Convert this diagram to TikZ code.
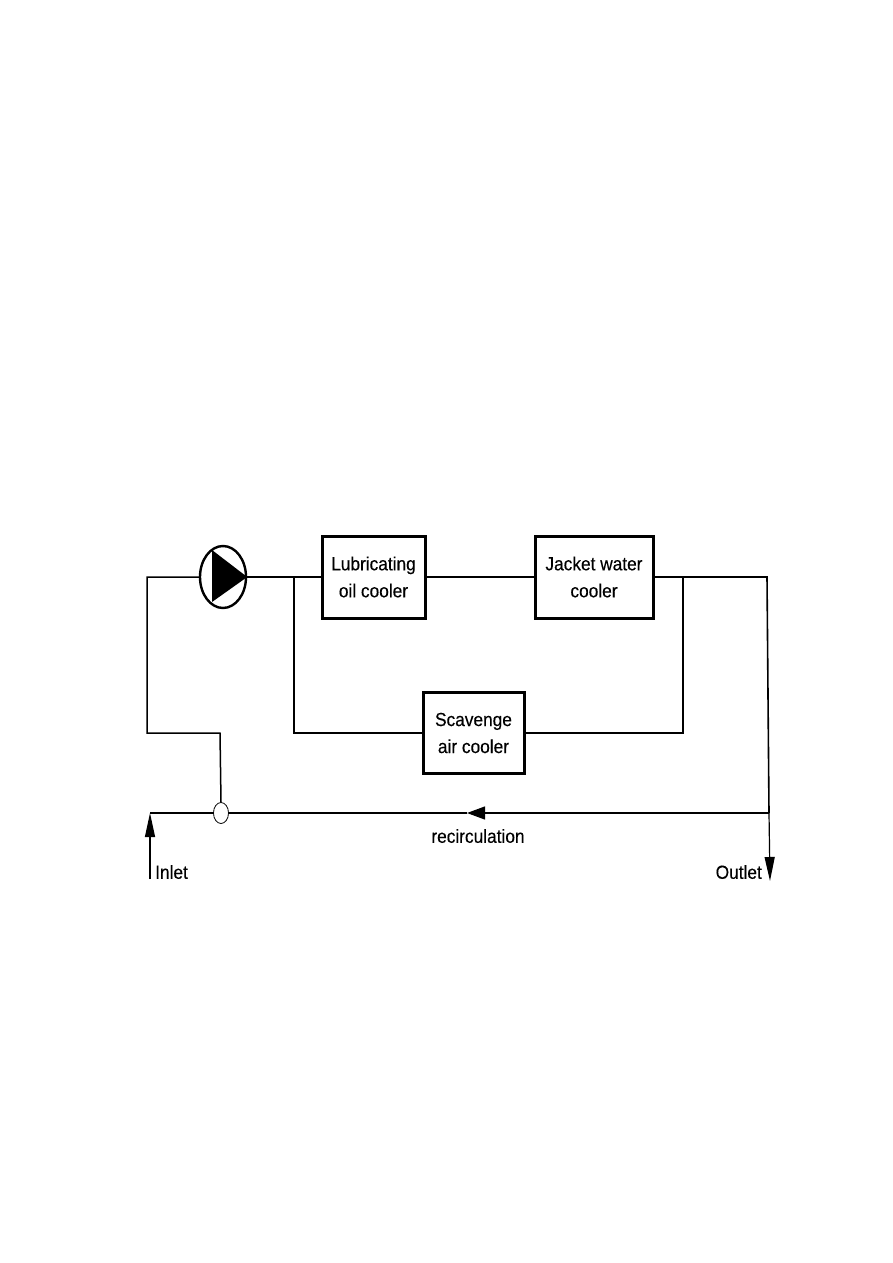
\documentclass[tikz,border=0pt]{standalone}
\usepackage{fontspec}
\setmainfont[FakeStretch=0.91,FakeBold=0.25]{Liberation Sans}
\usetikzlibrary{shapes.geometric,arrows.meta}
\tikzset{
  cooler/.style={draw=black,line width=3pt,fill=white,align=center,inner sep=0pt,
    font=\fontsize{19}{27}\selectfont},
  pipe/.style={draw=black,line width=1.2pt},
  heavypipe/.style={draw=black,line width=2pt},
  label/.style={inner sep=0pt,font=\fontsize{19}{27}\selectfont},
  flowtip/.style={-{Triangle[length=24pt,width=10pt]}},
  flowtipshort/.style={-{Triangle[length=18pt,width=13pt]}}
}
\begin{document}
\begin{tikzpicture}[x=1pt,y=-1pt]
\useasboundingbox[fill=white] (0,0) rectangle (893,1263);

% Equipment
\node[cooler,minimum width=103pt,minimum height=82pt] (lub) at (373.5,577) {Lubricating\\oil cooler};
\node[cooler,minimum width=118pt,minimum height=82pt] (jacket) at (594,577) {Jacket water\\cooler};
\node[cooler,minimum width=101pt,minimum height=81pt] (scav) at (473.5,733) {Scavenge\\air cooler};
\node[ellipse,draw=black,line width=2.4pt,fill=white,inner sep=0pt,minimum width=46pt,minimum height=62pt] (pump) at (223,577) {};
\node[ellipse,draw=black,line width=0.8pt,fill=white,inner sep=0pt,minimum width=15pt,minimum height=21pt] (valve) at (221,813) {};

% Pump impeller
\fill[black] (pump.east) -- ([shift={(-11,-27)}]pump.center) -- ([shift={(-11,25)}]pump.center) -- cycle;

% Pipe junctions and free ends
\coordinate (suctop) at (147,577);
\coordinate (sucbot) at (147,733);
\coordinate (valvetop) at (220,733);
\coordinate (branchL) at (294,577);
\coordinate (branchLb) at (294,733);
\coordinate (branchR) at (683,577);
\coordinate (branchRb) at (683,733);
\coordinate (outtop) at (767,577);
\coordinate (outmid) at (769,813);
\coordinate (outend) at (770,881);
\coordinate (incorner) at (150,813);
\coordinate (inend) at (150,879);
\coordinate (rectip) at (467,813);

% Main circuit
\draw[pipe,line width=1.5pt] (pump.west) -- (suctop) -- (sucbot) -- (valvetop) -- (valve.north);
\draw[pipe,line width=1.6pt] (pump.east) -- (lub.west);
\draw[pipe] (lub.east) -- (jacket.west);
\draw[pipe,line width=1.6pt] (jacket.east) -- (outtop) -- (outmid);
\draw[pipe,flowtip] (outmid) -- (outend);

% Scavenge air cooler branch
\draw[heavypipe] (branchL) -- (branchLb) -- (scav.west);
\draw[heavypipe] (scav.east) -- (branchRb) -- (branchR);

% Recirculation and inlet
\draw[pipe,flowtipshort] (outmid) -- (rectip);
\draw[pipe,line width=1.6pt] (rectip) -- (valve.east);
\draw[pipe,line width=1.6pt] (valve.west) -- (incorner);
\draw[pipe,flowtip] (inend) -- (incorner);

% Labels
\node[label] (recirc) at (478,836) {recirculation};
\node[label,anchor=west] (inlet) at (155,872) {Inlet};
\node[label,anchor=east] (outlet) at (762,872) {Outlet};
\end{tikzpicture}
\end{document}
